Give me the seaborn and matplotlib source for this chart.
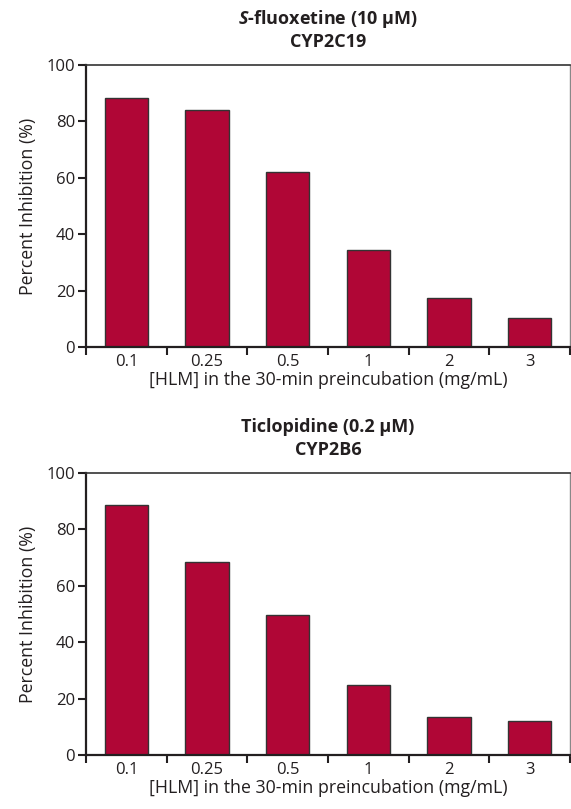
import numpy as np
import pandas as pd
import matplotlib
matplotlib.use("Agg")
import matplotlib.pyplot as plt
import seaborn as sns

# data
hlm_conc = ["0.1", "0.25", "0.5", "1", "2", "3"]
fluoxetine_inhib = [88.2, 84.0, 62.0, 34.4, 17.3, 10.3]
ticlopidine_inhib = [88.8, 68.5, 49.6, 25.0, 13.4, 12.2]
y_ticks = [0, 20, 40, 60, 80, 100]

sns.set_theme(style="white")
plt.rcParams["font.family"] = ["Open Sans", "DejaVu Sans"]
plt.rcParams["mathtext.fontset"] = "custom"
plt.rcParams["mathtext.it"] = "Open Sans:italic:bold"
plt.rcParams["mathtext.rm"] = "Open Sans:bold"

txt = "#231f20"
bar_col = "#b00636"

fig = plt.figure(figsize=(5.71, 8.09), dpi=100)
W, H = 571, 809

panels = [
    (fluoxetine_inhib, r"$\it{S}$-fluoxetine (10 µM)", "CYP2C19", 347, 19, 42),
    (ticlopidine_inhib, "Ticlopidine (0.2 µM)", "CYP2B6", 755, 427, 450),
]

for vals, t1, t2, y0, ty1, ty2 in panels:
    ax = fig.add_axes([86 / W, (H - y0) / H, 484 / W, 282 / H])
    df = pd.DataFrame({"conc": hlm_conc, "inhib": vals})
    sns.barplot(data=df, x="conc", y="inhib", order=hlm_conc, color=bar_col,
                saturation=1, width=0.54, edgecolor="#333333", linewidth=1.0, ax=ax)
    ax.set_xlim(-0.5, len(hlm_conc) - 0.5)
    ax.set_ylim(0, 100)
    ax.set_yticks(y_ticks)
    ax.set_xticks(np.arange(-0.5, len(hlm_conc)), minor=True)
    ax.tick_params(axis="x", which="major", length=0, pad=5, labelsize=12, labelcolor=txt)
    ax.tick_params(axis="x", which="minor", bottom=True, direction="out", length=6,
                   width=1.5, color=txt)
    ax.tick_params(axis="y", left=True, direction="out", length=6, width=1.5,
                   color=txt, labelsize=12, labelcolor=txt, pad=2)
    ax.set_xlabel("[HLM] in the 30-min preincubation (mg/mL)", fontsize=12.8, color=txt, labelpad=1)
    ax.set_ylabel("Percent Inhibition (%)", fontsize=12.8, color=txt, labelpad=7)
    for s in ["left", "bottom"]:
        ax.spines[s].set_color(txt)
        ax.spines[s].set_linewidth(1.6)
    ax.spines["top"].set_color("#333333")
    ax.spines["top"].set_linewidth(1.2)
    ax.spines["right"].set_color("#888888")
    ax.spines["right"].set_linewidth(1.0)
    fig.text(328 / W, 1 - ty1 / H, t1, ha="center", va="center", fontsize=13,
             fontweight="bold", color=txt)
    fig.text(328 / W, 1 - ty2 / H, t2, ha="center", va="center", fontsize=13,
             fontweight="bold", color=txt)

fig.savefig("out.png", dpi=100)
